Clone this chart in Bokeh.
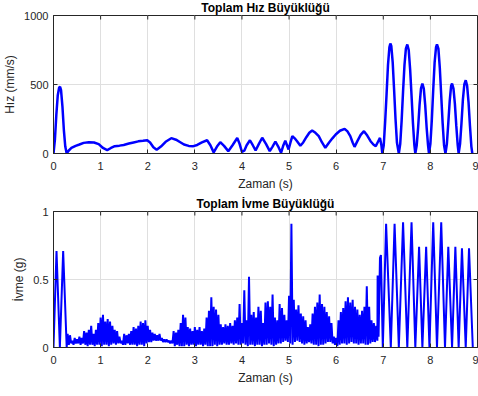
import numpy as np
from bokeh.plotting import figure
from bokeh.layouts import column
from bokeh.models import Range1d, FixedTicker
from bokeh.embed import file_html
from bokeh.resources import INLINE

# ---------------- data ----------------
title_top = "Toplam Hız Büyüklüğü"
title_bot = "Toplam İvme Büyüklüğü"
ylabel_top = "Hız (mm/s)"
ylabel_bot = "İvme (g)"
xlabel = "Zaman (s)"
x_ticks = [0, 1, 2, 3, 4, 5, 6, 7, 8, 9]
y_ticks_top = [0, 500, 1000]
y_ticks_bot = [0, 0.5, 1]

vel_t = [0, 0.03, 0.06, 0.09, 0.12, 0.14, 0.16, 0.19, 0.22, 0.25, 0.28,
         0.32, 0.38, 0.47, 0.55, 0.64, 0.75, 0.86, 0.96, 1.05, 1.14, 1.22,
         1.30, 1.40, 1.49, 1.60, 1.70, 1.80, 1.90, 1.99, 2.05, 2.12, 2.19,
         2.28, 2.38, 2.50, 2.60, 2.70, 2.77, 2.87, 2.97, 3.05, 3.15, 3.26,
         3.33, 3.40, 3.47, 3.54, 3.62, 3.71, 3.80, 3.90, 3.95, 4.00, 4.05,
         4.10, 4.17, 4.23, 4.29, 4.36, 4.43, 4.51, 4.59, 4.65, 4.71, 4.77,
         4.83, 4.88, 4.92, 4.99, 5.03, 5.07, 5.12, 5.17, 5.24, 5.30, 5.37,
         5.43, 5.49, 5.56, 5.63, 5.70, 5.77, 5.85, 5.92, 5.99, 6.08, 6.18,
         6.24, 6.30, 6.35, 6.39, 6.45, 6.52, 6.59, 6.66, 6.73, 6.79, 6.84,
         6.88, 6.93, 6.96, 6.98,
         7.01, 7.04, 7.07, 7.10, 7.13, 7.15, 7.17, 7.20, 7.23, 7.26, 7.29, 7.33,
         7.36, 7.39, 7.42, 7.45, 7.48, 7.51, 7.54, 7.57, 7.60, 7.63, 7.66, 7.68,
         7.71, 7.74, 7.77, 7.80, 7.83, 7.86, 7.89, 7.92, 7.95, 7.97,
         8.00, 8.03, 8.06, 8.09, 8.12, 8.14, 8.17, 8.20, 8.23, 8.26, 8.29, 8.32,
         8.35, 8.38, 8.41, 8.44, 8.46, 8.49, 8.52, 8.55, 8.58, 8.60,
         8.63, 8.66, 8.69, 8.72, 8.75, 8.78, 8.81, 8.84, 8.87, 8.89]
vel_v = [0, 100, 280, 420, 478, 483, 460, 340, 170, 50, 0,
         20, 40, 55, 65, 77, 82, 80, 68, 40, 24, 40,
         53, 57, 62, 72, 80, 88, 92, 96, 80, 45, 27,
         50, 85, 111, 100, 80, 65, 55, 53, 62, 80, 96,
         60, 8, 50, 82, 55, 17, 60, 112, 70, 12, 20,
         60, 96, 60, 22, 70, 114, 70, 17, 50, 87, 50,
         5, 60, 92, 29, 80, 126, 110, 89, 56, 80, 120,
         150, 167, 150, 126, 80, 41, 80, 110, 138, 165, 179,
         160, 126, 80, 48, 90, 135, 162, 130, 89, 65, 53,
         80, 113, 60, 0,
         60, 230, 430, 640, 770, 797, 780, 660, 460, 250, 80, 0,
         70, 240, 450, 640, 760, 790, 750, 610, 420, 220, 60, 0,
         60, 190, 350, 470, 507, 470, 350, 190, 60, 0,
         70, 240, 460, 660, 770, 790, 760, 620, 420, 220, 60, 0,
         70, 220, 380, 490, 507, 470, 360, 200, 60, 0,
         70, 220, 390, 500, 531, 490, 370, 200, 50, 0]

acc_start_t = [0, 0.064, 0.135, 0.205, 0.28]
acc_start_v = [0, 0.71, 0, 0.71, 0]

noise_t0 = 0.30
noise_dt = 0.05
noise_hi = [0.10, 0.09, 0.05, 0.07, 0.06, 0.08, 0.07, 0.12, 0.11, 0.13,
            0.16, 0.10, 0.13, 0.18, 0.22, 0.24, 0.19, 0.21, 0.19, 0.16,
            0.13, 0.12, 0.08, 0.05, 0.10, 0.09, 0.10, 0.12, 0.15, 0.14,
            0.16, 0.19, 0.18, 0.20, 0.16, 0.13, 0.11, 0.10, 0.09, 0.10,
            0.07, 0.06, 0.06, 0.05, 0.05, 0.12, 0.11, 0.13, 0.18, 0.24,
            0.22, 0.15, 0.14, 0.12, 0.15, 0.13, 0.15, 0.12, 0.14, 0.22,
            0.27, 0.37, 0.30, 0.28, 0.24, 0.17, 0.15, 0.17, 0.16, 0.18,
            0.16, 0.20, 0.22, 0.32, 0.18, 0.42, 0.20, 0.52, 0.24, 0.26,
            0.22, 0.30, 0.27, 0.18, 0.33, 0.34, 0.30, 0.39, 0.22, 0.20,
            0.32, 0.29, 0.24, 0.20, 0.38, 0.91, 0.35, 0.28, 0.31, 0.25,
            0.23, 0.20, 0.15, 0.17, 0.25, 0.30, 0.33, 0.39, 0.32, 0.30,
            0.26, 0.23, 0.18, 0.08, 0.07, 0.20, 0.26, 0.29, 0.34, 0.37,
            0.33, 0.35, 0.30, 0.28, 0.24, 0.27, 0.30, 0.45, 0.30, 0.20,
            0.18, 0.16]
noise_lo = [0.02, 0.03, 0.02, 0.03, 0.03, 0.02, 0.03, 0.02, 0.01, 0.02,
            0.02, 0.01, 0.02, 0.02, 0.01, 0.02, 0.02, 0.01, 0.02, 0.03,
            0.02, 0.03, 0.03, 0.02, 0.02, 0.03, 0.02, 0.02, 0.02, 0.01,
            0.02, 0.02, 0.01, 0.03, 0.04, 0.04, 0.05, 0.05, 0.05, 0.05,
            0.04, 0.04, 0.04, 0.03, 0.03, 0.01, 0.02, 0.01, 0.01, 0.01,
            0.02, 0.01, 0.02, 0.02, 0.01, 0.02, 0.02, 0.01, 0.02, 0.01,
            0.01, 0.01, 0.02, 0.01, 0.02, 0.02, 0.03, 0.02, 0.02, 0.03,
            0.02, 0.03, 0.02, 0.02, 0.03, 0.02, 0.01, 0.02, 0.02, 0.01,
            0.02, 0.02, 0.01, 0.02, 0.02, 0.03, 0.02, 0.01, 0.02, 0.03,
            0.03, 0.04, 0.05, 0.04, 0.03, 0.02, 0.04, 0.05, 0.04, 0.03,
            0.02, 0.03, 0.04, 0.03, 0.02, 0.02, 0.01, 0.02, 0.02, 0.03,
            0.04, 0.04, 0.03, 0.02, 0.01, 0.02, 0.03, 0.03, 0.02, 0.03,
            0.04, 0.03, 0.03, 0.02, 0.03, 0.03, 0.02, 0.02, 0.03, 0.04,
            0.04, 0.05]

acc_end_t = [6.88, 6.90, 6.93, 6.95, 6.99,
             7.06, 7.16, 7.24, 7.33, 7.42, 7.51, 7.60, 7.68, 7.76, 7.83,
             7.91, 7.98, 8.06, 8.14, 8.23, 8.31, 8.38, 8.46, 8.53, 8.60,
             8.67, 8.75, 8.82, 8.90]
acc_end_v = [0.53, 0.08, 0.66, 0.68, 0.0,
             0.91, 0.0, 0.91, 0.0, 0.92, 0.0, 0.92, 0.0, 0.74, 0.0,
             0.74, 0.0, 0.92, 0.0, 0.92, 0.0, 0.74, 0.0, 0.74, 0.0,
             0.73, 0.0, 0.73, 0.0]

# assemble acceleration trace (noise block drawn as alternating hi/lo samples)
acc_t = list(acc_start_t)
acc_v = list(acc_start_v)
for i, (h, l) in enumerate(zip(noise_hi, noise_lo)):
    t = noise_t0 + i * noise_dt
    acc_t += [t, t + noise_dt / 2]
    acc_v += [h, l]
acc_t += acc_end_t
acc_v += acc_end_v

# ---------------- styling ----------------
FONT = "Liberation Sans"
AX = "#262626"
GRID = "#dfdfdf"
BLUE = "#0000ff"
X_END = 9


def style_axis(ax, ticks):
    ax.ticker = FixedTicker(ticks=ticks)
    ax.axis_line_color = AX
    ax.axis_line_width = 1
    ax.major_tick_line_color = AX
    ax.major_tick_in = 4
    ax.major_tick_out = 0
    ax.minor_tick_line_color = None
    ax.major_label_text_font = FONT
    ax.major_label_text_font_size = "11px"
    ax.major_label_text_color = AX
    ax.axis_label_text_font = FONT
    ax.axis_label_text_font_size = "12px"
    ax.axis_label_text_font_style = "normal"
    ax.axis_label_text_color = AX


def make_fig(title, ylabel, y_end, yticks, frame_h, top_b, bottom_b):
    p = figure(frame_width=424, frame_height=frame_h,
               x_range=Range1d(0, X_END), y_range=Range1d(0, y_end),
               output_backend="svg", toolbar_location=None,
               min_border_left=53, min_border_right=1,
               min_border_top=top_b, min_border_bottom=bottom_b,
               background_fill_color="white", border_fill_color="white")
    p.title.text = title
    p.title.align = "center"
    p.title.text_font = FONT
    p.title.text_font_size = "12px"
    p.title.text_font_style = "bold"
    p.title.text_color = "black"
    p.title.standoff = 2
    p.outline_line_color = AX
    p.outline_line_width = 1
    p.outline_line_alpha = 1
    style_axis(p.xaxis[0], x_ticks)
    style_axis(p.yaxis[0], yticks)
    p.xaxis[0].axis_label = xlabel
    p.yaxis[0].axis_label = ylabel
    p.xaxis[0].major_label_standoff = 8
    p.xaxis[0].axis_label_standoff = 4
    p.yaxis[0].major_label_standoff = 5
    p.yaxis[0].axis_label_standoff = 4
    p.xgrid.ticker = FixedTicker(ticks=x_ticks)
    p.ygrid.ticker = FixedTicker(ticks=yticks)
    p.xgrid.grid_line_color = GRID
    p.ygrid.grid_line_color = GRID
    # inward tick marks on the top and right edges of the box (MATLAB "box on")
    p.ray(x=x_ticks, y=[y_end] * len(x_ticks), length=4, length_units="screen",
          angle=-np.pi / 2, line_color=AX, line_width=1)
    p.ray(x=[X_END] * len(yticks), y=yticks, length=4, length_units="screen",
          angle=np.pi, line_color=AX, line_width=1)
    return p


p1 = make_fig(title_top, ylabel_top, 1000, y_ticks_top, 138, 16, 38)
p1.line(vel_t, vel_v, line_color=BLUE, line_width=2.5)

p2 = make_fig(title_bot, ylabel_bot, 1, y_ticks_bot, 136, 18, 38)
p2.line(acc_t, acc_v, line_color=BLUE, line_width=2)

layout = column(p1, p2, spacing=0, styles={"margin-top": "-3px"})

open("out.html", "w").write(file_html(layout, INLINE))
